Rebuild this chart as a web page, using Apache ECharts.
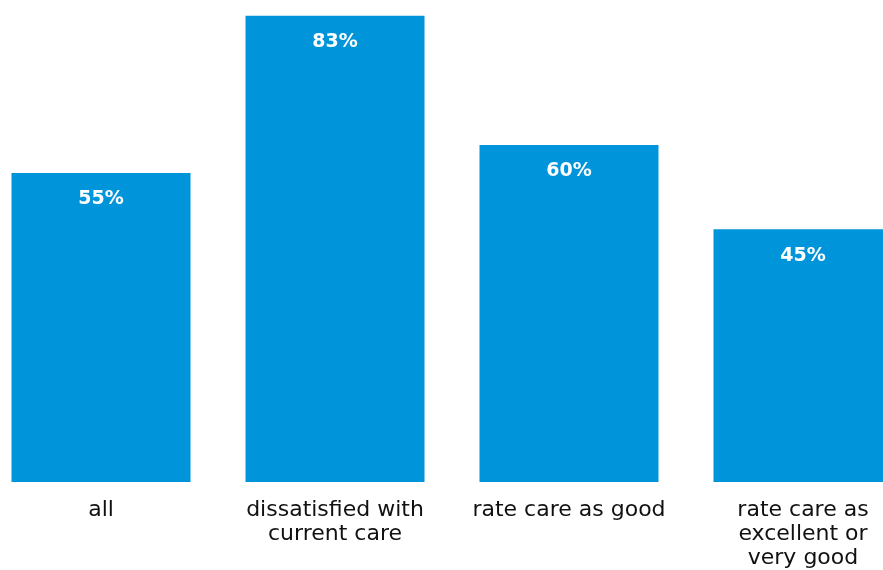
<!DOCTYPE html>
<html>
<head>
<meta charset="utf-8">
<script src="https://cdn.jsdelivr.net/npm/echarts@6/dist/echarts.min.js"></script>
<style>html,body{margin:0;padding:0;background:#fff;}#c{width:883px;height:570px;}</style>
</head>
<body>
<div id="c"></div>
<script>
const categories = ["all", "dissatisfied with\ncurrent care", "rate care as good", "rate care as\nexcellent or\nvery good"];
const values = [55, 83, 60, 45];

const chart = echarts.init(document.getElementById('c'));
chart.setOption({
  animation: false,
  grid: {left: -16, width: 936, top: 0, height: 482, containLabel: false, outerBoundsMode: 'none'},
  xAxis: {
    type: 'category',
    data: categories,
    axisLine: {show: false},
    axisTick: {show: false},
    axisLabel: {
      color: '#111', fontSize: 22, fontFamily: 'DejaVu Sans', lineHeight: 24,
      margin: 16, interval: 0
    }
  },
  yAxis: {type: 'value', min: 0, max: 85.8, show: false, splitLine: {show: false}},
  series: [{
    type: 'bar',
    data: values,
    barWidth: 179,
    itemStyle: {color: '#0095DA'},
    label: {
      show: true, position: 'insideTop', distance: 17,
      color: '#fff', fontWeight: 'bold', fontSize: 19, fontFamily: 'DejaVu Sans',
      formatter: p => p.value + '%'
    }
  }]
});
</script>
</body>
</html>
